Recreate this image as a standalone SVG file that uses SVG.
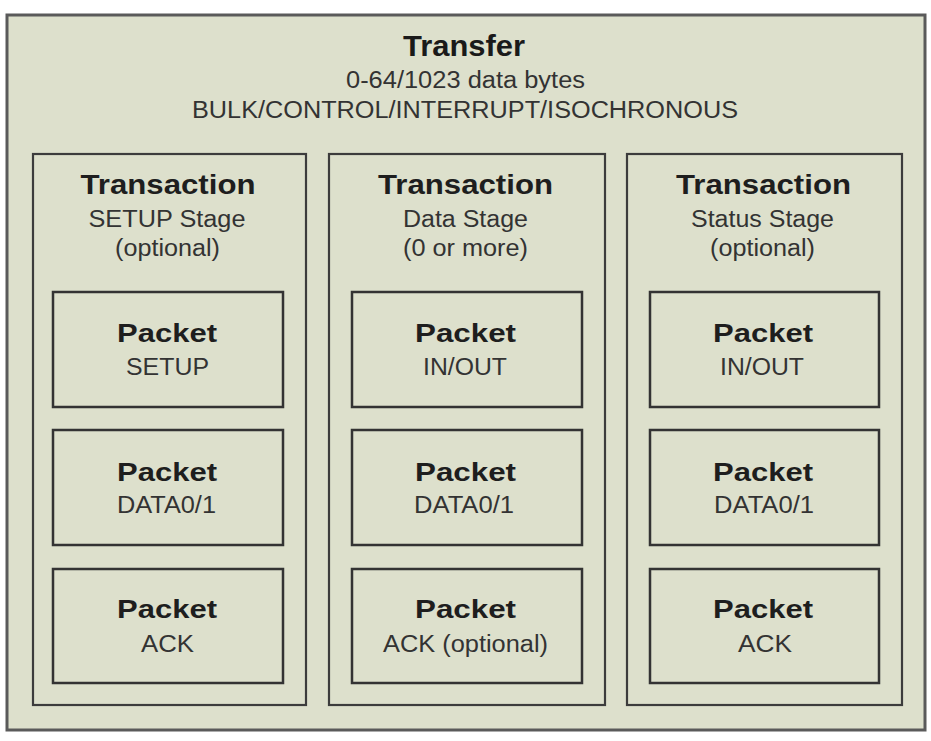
<svg xmlns="http://www.w3.org/2000/svg" width="931" height="741" viewBox="0 0 931 741">
<style>
  text { font-family: "Liberation Sans", Arial, sans-serif; text-anchor: middle; }
  .outer { fill: #dde0cc; stroke: #5a5a5a; stroke-width: 3; }
  .trans { fill: #dde0cc; stroke: #3c3c3c; stroke-width: 2.2; }
  .pkt { fill: #dde0cc; stroke: #333333; stroke-width: 2.5; }
  .h1 { font-size: 29px; font-weight: bold; fill: #1a1a1a; }
  .h2 { font-size: 28px; font-weight: bold; fill: #1e1e1e; }
  .sub { font-size: 23px; fill: #333333; }
  .ph { font-size: 26px; font-weight: bold; fill: #1e1e1e; }
  .ps { font-size: 23px; fill: #333333; }
</style>
<rect x="0" y="0" width="931" height="741" fill="#ffffff"/>
<g id="transfer">
  <rect class="outer" x="7" y="15" width="918" height="715"/>
  <text class="h1" x="464" y="56" textLength="122" lengthAdjust="spacingAndGlyphs">Transfer</text>
  <text class="sub" x="465.5" y="88" textLength="239" lengthAdjust="spacingAndGlyphs">0-64/1023 data bytes</text>
  <text class="sub" x="465" y="118" textLength="546" lengthAdjust="spacingAndGlyphs">BULK/CONTROL/INTERRUPT/ISOCHRONOUS</text>
</g>
<g id="connectors"></g>
<g id="txn-setup">
  <rect class="trans" x="33" y="154" width="273" height="551"/>
  <text class="h2" x="168" y="194" textLength="175" lengthAdjust="spacingAndGlyphs">Transaction</text>
  <text class="sub" x="167" y="227" textLength="157" lengthAdjust="spacingAndGlyphs">SETUP Stage</text>
  <text class="sub" x="167.5" y="256" textLength="105" lengthAdjust="spacingAndGlyphs">(optional)</text>
</g>
<g id="txn-data">
  <rect class="trans" x="329" y="154" width="276" height="551"/>
  <text class="h2" x="465.5" y="194" textLength="175" lengthAdjust="spacingAndGlyphs">Transaction</text>
  <text class="sub" x="465.5" y="227" textLength="125" lengthAdjust="spacingAndGlyphs">Data Stage</text>
  <text class="sub" x="465.5" y="256" textLength="125" lengthAdjust="spacingAndGlyphs">(0 or more)</text>
</g>
<g id="txn-status">
  <rect class="trans" x="627" y="154" width="275" height="551"/>
  <text class="h2" x="763.5" y="194" textLength="175" lengthAdjust="spacingAndGlyphs">Transaction</text>
  <text class="sub" x="762.5" y="227" textLength="143" lengthAdjust="spacingAndGlyphs">Status Stage</text>
  <text class="sub" x="762.5" y="256" textLength="105" lengthAdjust="spacingAndGlyphs">(optional)</text>
</g>
<g id="pkt-setup-setup">
  <rect class="pkt" x="53" y="292" width="230" height="115"/>
  <text class="ph" x="167" y="342" textLength="100" lengthAdjust="spacingAndGlyphs">Packet</text>
  <text class="ps" x="167.5" y="375" textLength="83" lengthAdjust="spacingAndGlyphs">SETUP</text>
</g>
<g id="pkt-setup-data">
  <rect class="pkt" x="53" y="430" width="230" height="115"/>
  <text class="ph" x="167" y="481" textLength="100" lengthAdjust="spacingAndGlyphs">Packet</text>
  <text class="ps" x="166.5" y="513" textLength="99" lengthAdjust="spacingAndGlyphs">DATA0/1</text>
</g>
<g id="pkt-setup-ack">
  <rect class="pkt" x="53" y="569" width="230" height="114"/>
  <text class="ph" x="167" y="618" textLength="100" lengthAdjust="spacingAndGlyphs">Packet</text>
  <text class="ps" x="167.5" y="652" textLength="53" lengthAdjust="spacingAndGlyphs">ACK</text>
</g>
<g id="pkt-data-inout">
  <rect class="pkt" x="352" y="292" width="230" height="115"/>
  <text class="ph" x="465.5" y="342" textLength="101" lengthAdjust="spacingAndGlyphs">Packet</text>
  <text class="ps" x="465" y="375" textLength="84" lengthAdjust="spacingAndGlyphs">IN/OUT</text>
</g>
<g id="pkt-data-data">
  <rect class="pkt" x="352" y="430" width="230" height="115"/>
  <text class="ph" x="465.5" y="481" textLength="101" lengthAdjust="spacingAndGlyphs">Packet</text>
  <text class="ps" x="464" y="513" textLength="100" lengthAdjust="spacingAndGlyphs">DATA0/1</text>
</g>
<g id="pkt-data-ack">
  <rect class="pkt" x="352" y="569" width="230" height="114"/>
  <text class="ph" x="465.5" y="618" textLength="101" lengthAdjust="spacingAndGlyphs">Packet</text>
  <text class="ps" x="465.5" y="652" textLength="165" lengthAdjust="spacingAndGlyphs">ACK (optional)</text>
</g>
<g id="pkt-status-inout">
  <rect class="pkt" x="650" y="292" width="229" height="115"/>
  <text class="ph" x="763" y="342" textLength="100" lengthAdjust="spacingAndGlyphs">Packet</text>
  <text class="ps" x="762" y="375" textLength="84" lengthAdjust="spacingAndGlyphs">IN/OUT</text>
</g>
<g id="pkt-status-data">
  <rect class="pkt" x="650" y="430" width="229" height="115"/>
  <text class="ph" x="763" y="481" textLength="100" lengthAdjust="spacingAndGlyphs">Packet</text>
  <text class="ps" x="764" y="513" textLength="100" lengthAdjust="spacingAndGlyphs">DATA0/1</text>
</g>
<g id="pkt-status-ack">
  <rect class="pkt" x="650" y="569" width="229" height="114"/>
  <text class="ph" x="763" y="618" textLength="100" lengthAdjust="spacingAndGlyphs">Packet</text>
  <text class="ps" x="765" y="652" textLength="54" lengthAdjust="spacingAndGlyphs">ACK</text>
</g>
</svg>
